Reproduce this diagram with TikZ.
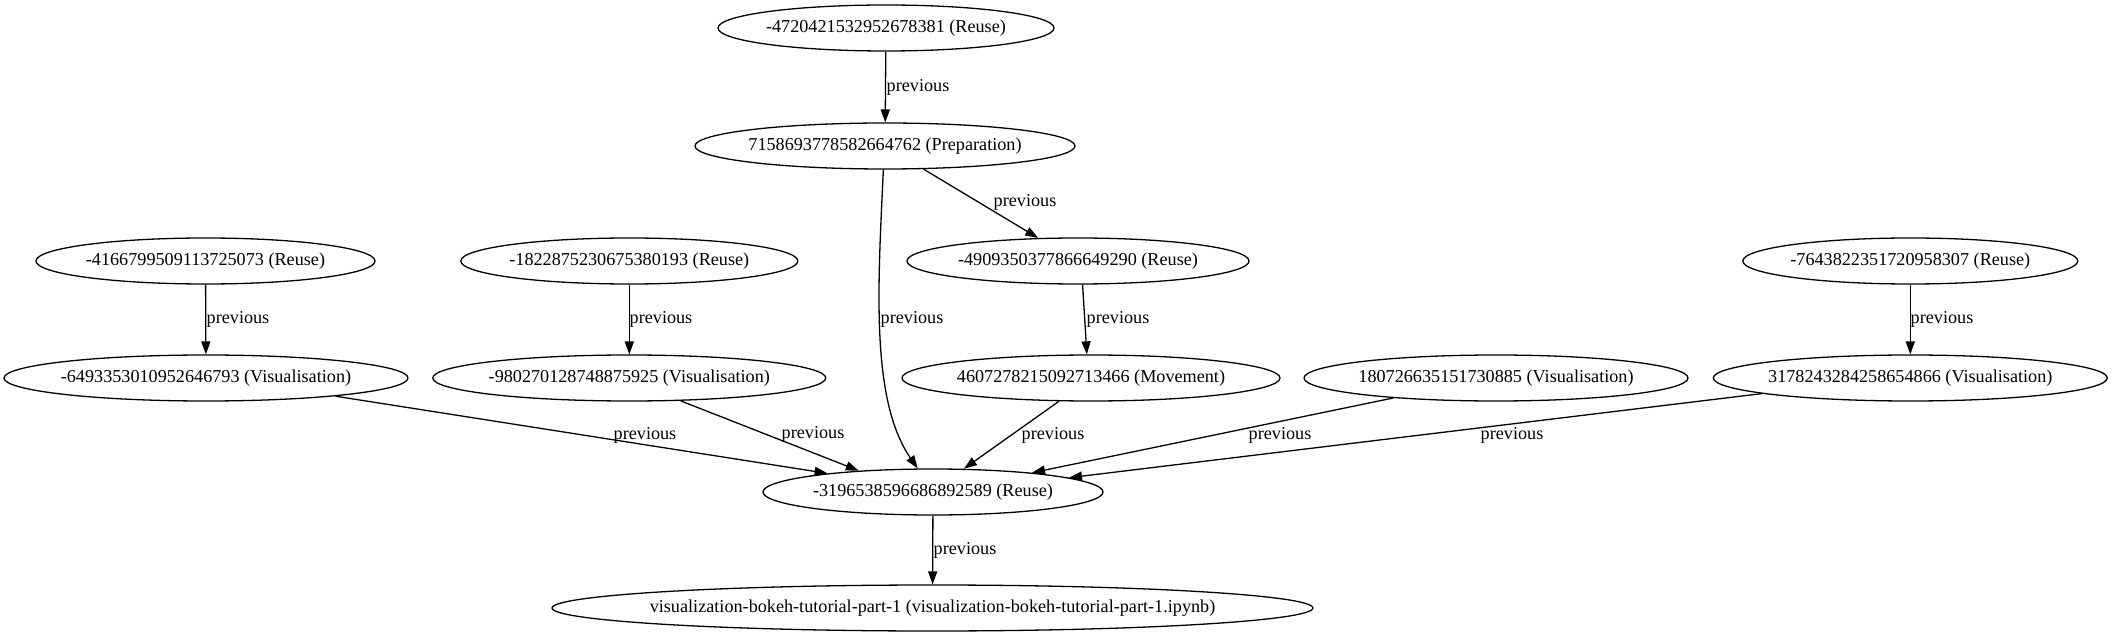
\documentclass[tikz,border=0pt]{standalone}
\usepackage{fontspec}
\setmainfont{Liberation Serif}
\usetikzlibrary{shapes.geometric,arrows.meta}
\begin{document}
\begin{tikzpicture}[x=0.77pt, y=-0.77pt,
  ell/.style={draw, ellipse, line width=1pt, inner xsep=-60pt, inner ysep=0pt,
    minimum height=46*0.77pt, font=\fontsize{14pt}{16pt}\selectfont},
  lbl/.style={inner sep=0pt, font=\fontsize{14pt}{16pt}\selectfont},
  conn/.style={line width=1pt, -{Triangle[length=10pt,width=7pt]}}]
\useasboundingbox (0,0) rectangle (2115,639);
% nodes
\node[ell, minimum width=336*0.77pt] (A) at (886,28) {-4720421532952678381 (Reuse)};
\node[ell, minimum width=380*0.77pt] (B) at (885,146) {7158693778582664762 (Preparation)};
\node[ell, minimum width=339*0.77pt] (C) at (205.5,261) {-4166799509113725073 (Reuse)};
\node[ell, minimum width=337*0.77pt] (D) at (629.3,261) {-1822875230675380193 (Reuse)};
\node[ell, minimum width=342*0.77pt] (E) at (1078,261) {-4909350377866649290 (Reuse)};
\node[ell, minimum width=335*0.77pt] (F) at (1910.3,261) {-7643822351720958307 (Reuse)};
\node[ell, minimum width=404*0.77pt] (G) at (206,378) {-6493353010952646793 (Visualisation)};
\node[ell, minimum width=393*0.77pt] (H) at (629.3,378) {-980270128748875925 (Visualisation)};
\node[ell, minimum width=378*0.77pt] (I) at (1091,378) {4607278215092713466 (Movement)};
\node[ell, minimum width=384*0.77pt] (J) at (1496,378) {180726635151730885 (Visualisation)};
\node[ell, minimum width=394*0.77pt] (K) at (1910.3,378) {3178243284258654866 (Visualisation)};
\node[ell, minimum width=340*0.77pt] (L) at (933,492) {-3196538596686892589 (Reuse)};
\node[ell, minimum width=761*0.77pt] (M) at (932.5,608) {visualization-bokeh-tutorial-part-1 (visualization-bokeh-tutorial-part-1.ipynb)};
% connectors
\draw[conn] (A) -- (B) node[lbl] at (918,87) {previous};
\draw[conn] (B.-31.4) -- (E.150.1) node[lbl] at (1025,202) {previous};
\draw[conn] (B.266) .. controls +(-5,111) and +(-48,-69) .. (L.123.2) node[lbl] at (912,319) {previous};
\draw[conn] (C) -- (G) node[lbl] at (238,319) {previous};
\draw[conn] (D) -- (H) node[lbl] at (661,319) {previous};
\draw[conn] (E.-79.7) -- (I.100.3) node[lbl] at (1118,319) {previous};
\draw[conn] (F) -- (K) node[lbl] at (1942,319) {previous};
\draw[conn] (G.-8.65) -- (L.170.96) node[lbl] at (645,435) {previous};
\draw[conn] (H.-24.7) -- (L.164.1) node[lbl] at (813,434) {previous};
\draw[conn] (I.216.2) -- (L.37) node[lbl] at (1053,435) {previous};
\draw[conn] (J.191.7) -- (L.11.5) node[lbl] at (1280,435) {previous};
\draw[conn] (K.186.9) -- (L.6.87) node[lbl] at (1512,435) {previous};
\draw[conn] (L) -- (M) node[lbl] at (965,550) {previous};
\end{tikzpicture}
\end{document}
